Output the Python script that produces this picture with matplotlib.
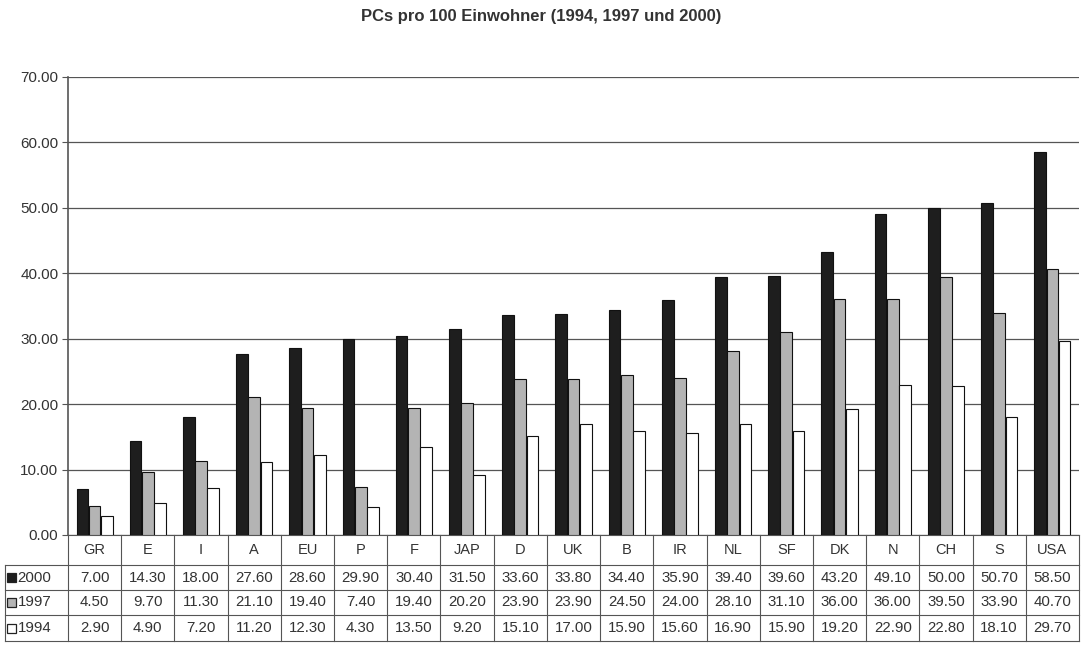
import matplotlib
matplotlib.use('Agg')
import matplotlib.pyplot as plt
from matplotlib.patches import Rectangle
import numpy as np

plt.rcParams['font.family'] = ['Liberation Sans', 'DejaVu Sans']

# Data
countries = ['GR', 'E', 'I', 'A', 'EU', 'P', 'F', 'JAP', 'D', 'UK', 'B', 'IR',
             'NL', 'SF', 'DK', 'N', 'CH', 'S', 'USA']
pc_2000 = [7.00, 14.30, 18.00, 27.60, 28.60, 29.90, 30.40, 31.50, 33.60, 33.80,
           34.40, 35.90, 39.40, 39.60, 43.20, 49.10, 50.00, 50.70, 58.50]
pc_1997 = [4.50, 9.70, 11.30, 21.10, 19.40, 7.40, 19.40, 20.20, 23.90, 23.90,
           24.50, 24.00, 28.10, 31.10, 36.00, 36.00, 39.50, 33.90, 40.70]
pc_1994 = [2.90, 4.90, 7.20, 11.20, 12.30, 4.30, 13.50, 9.20, 15.10, 17.00,
           15.90, 15.60, 16.90, 15.90, 19.20, 22.90, 22.80, 18.10, 29.70]
years = ['2000', '1997', '1994']
y_ticks = [0, 10, 20, 30, 40, 50, 60, 70]

series = [pc_2000, pc_1997, pc_1994]
colors = ['#1e1e1e', '#b4b4b4', '#ffffff']
text_color = '#333333'
line_color = '#555555'

W, H = 1082, 647
fig = plt.figure(figsize=(W / 100, H / 100), dpi=100)

# axes placed in pixel terms
ax_left, ax_right, ax_top, ax_bottom = 68, 1079, 77, 535
ax = fig.add_axes([ax_left / W, 1 - ax_bottom / H,
                   (ax_right - ax_left) / W, (ax_bottom - ax_top) / H])

x = np.arange(len(countries))
bar_w = 0.22
for i, (vals, col) in enumerate(zip(series, colors)):
    ax.bar(x + (i - 1) * 0.23, vals, width=bar_w, color=col,
           edgecolor='#111111', linewidth=0.8, zorder=3)

ax.set_xlim(-0.5, len(countries) - 0.5)
ax.set_ylim(0, 70)
ax.set_yticks(y_ticks)
ax.set_yticklabels([f'{v:.2f}' for v in y_ticks], fontsize=11, color=text_color)
ax.set_xticks([])
ax.tick_params(axis='y', length=4, color=line_color, pad=3)
ax.grid(axis='y', color=line_color, linewidth=0.9, zorder=0)
for s in ['top', 'right']:
    ax.spines[s].set_visible(False)
ax.spines['left'].set_color(line_color)
ax.spines['bottom'].set_color(line_color)
ax.spines['left'].set_linewidth(1.2)

fig.text(0.5, 1 - 17 / H, 'PCs pro 100 Einwohner (1994, 1997 und 2000)',
         ha='center', va='center', fontsize=12, fontweight='bold', color=text_color)

# data table under the axes
def ay(py):
    """pixel row -> axes fraction"""
    return (ax_bottom - py) / (ax_bottom - ax_top)

tr = ax.get_xaxis_transform()
col_px = (ax_right - ax_left) / len(countries)
label_left = -0.5 - (ax_left - 5) / col_px
row_edges = [535, 565, 590, 615, 641]
right = len(countries) - 0.5

kw = dict(transform=tr, clip_on=False, color=line_color, linewidth=0.8)
for i in range(len(countries) + 1):
    ax.plot([i - 0.5, i - 0.5], [ay(row_edges[0]), ay(row_edges[-1])], **kw)
ax.plot([label_left, label_left], [ay(row_edges[1]), ay(row_edges[-1])], **kw)
for py in row_edges[1:]:
    ax.plot([label_left, right], [ay(py), ay(py)], **kw)

# header row with country names
hy = ay((row_edges[0] + row_edges[1]) / 2)
for xi, c in zip(x, countries):
    ax.text(xi, hy, c, transform=tr, ha='center', va='center',
            fontsize=10.5, color=text_color)

# value rows
for r, (vals, yr, col) in enumerate(zip(series, years, colors)):
    ry = ay((row_edges[r + 1] + row_edges[r + 2]) / 2)
    for xi, v in zip(x, vals):
        ax.text(xi, ry, f'{v:.2f}', transform=tr, ha='center', va='center',
                fontsize=10.8, color=text_color)
    sw = 9 / col_px
    sh = 9 / (ax_bottom - ax_top)
    sx = label_left + 2 / col_px
    ax.add_patch(Rectangle((sx, ry - sh / 2), sw, sh, transform=tr,
                           facecolor=col, edgecolor='#222222', linewidth=0.9,
                           clip_on=False))
    ax.text(sx + sw + 1.5 / col_px, ry, yr, transform=tr, ha='left', va='center',
            fontsize=10.8, color=text_color)

fig.savefig('out.png', dpi=100)
